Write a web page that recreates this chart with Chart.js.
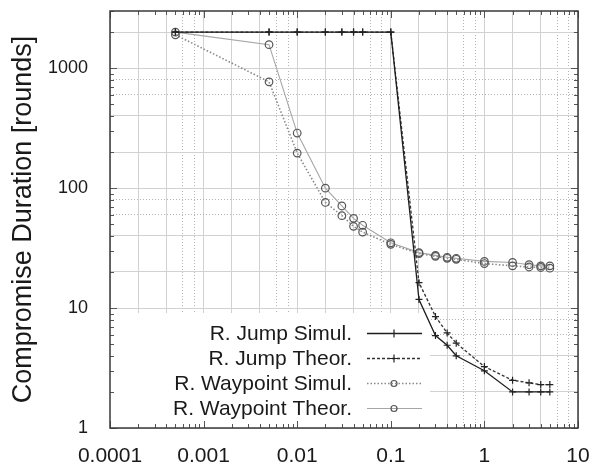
<!DOCTYPE html>
<html>
<head>
<meta charset="utf-8">
<script src="https://cdn.jsdelivr.net/npm/chart.js@4/dist/chart.umd.min.js"></script>
<style>
  html, body { margin: 0; padding: 0; background: #ffffff; }
  #wrap { width: 595px; height: 472px; position: relative; }
</style>
</head>
<body>
<div id="wrap"><canvas id="c" width="595" height="472"></canvas></div>
<script>
// ---- data ----
const xValues = [0.0005, 0.005, 0.01, 0.02, 0.03, 0.04, 0.05, 0.1, 0.2, 0.3, 0.4, 0.5, 1, 2, 3, 4, 5];
const jumpSimul     = [2000, 2000, 2000, 2000, 2000, 2000, 2000, 2000, 11.8, 5.9, 4.9, 4.0, 3.0, 2.0, 2.0, 2.0, 2.0];
const jumpTheor     = [2000, 2000, 2000, 2000, 2000, 2000, 2000, 2000, 16.3, 8.5, 6.2, 5.1, 3.25, 2.5, 2.38, 2.3, 2.3];
const waypointSimul = [1900, 770, 196, 76, 59, 48, 43, 34, 28.5, 27, 26, 25.5, 23.5, 22.5, 22, 21.8, 21.5];
const waypointTheor = [2000, 1573, 288, 100, 71, 56, 49, 35, 29, 27.5, 26.5, 26, 24.5, 24, 23, 22.5, 22.5];
const seriesLabels = ['R. Jump Simul.', 'R. Jump Theor.', 'R. Waypoint Simul.', 'R. Waypoint Theor.'];
const xTickValues = [0.0001, 0.001, 0.01, 0.1, 1, 10];
const xTickLabels = ['0.0001', '0.001', '0.01', '0.1', '1', '10'];
const yTickValues = [1, 10, 100, 1000];
const yTickLabels = ['1', '10', '100', '1000'];
const yTitle = 'Compromise Duration [rounds]';
const xMin = 0.0001, xMax = 10, yMin = 1, yMax = 3000;

// ---- helpers ----
function logSteps(minV, maxV) {
  const out = [];
  const e0 = Math.round(Math.log10(minV)), e1 = Math.ceil(Math.log10(maxV));
  for (let e = e0; e <= e1; e++) {
    for (let k = 1; k <= 9; k++) {
      const v = parseFloat((k * Math.pow(10, e)).toPrecision(6));
      if (v >= minV * 0.9999 && v <= maxV * 1.0001) out.push(v);
    }
  }
  return out;
}
function mantissa(v) {
  const e = Math.floor(Math.log10(v) + 1e-9);
  return Math.round(v / Math.pow(10, e));
}
function labelFor(vals, labels, v) {
  const i = vals.findIndex(t => Math.abs(t - v) / t < 1e-6);
  return i >= 0 ? labels[i] : '';
}
function gridColor(ctx) {
  if (!ctx.tick) return 'rgba(0,0,0,0)';
  const m = mantissa(ctx.tick.value);
  if (m === 1 || m === 2 || m === 4) return '#d2d2d2';
  if (m === 6 || m === 8) return '#b4b4b4';
  return 'rgba(0,0,0,0)';
}
function gridDash(ctx) {
  if (!ctx.tick) return [];
  const m = mantissa(ctx.tick.value);
  return (m === 6 || m === 8) ? [1, 2] : [];
}
function fixBox(s) {
  s.paddingTop = 0; s.paddingBottom = 0; s.paddingLeft = 0; s.paddingRight = 0;
}

const mainFontFamily = "'Liberation Sans', Arial, sans-serif";

const styles = [
  { borderColor: '#1e1e1e', borderWidth: 1.3, borderDash: [], pointStyle: 'cross', pointRadius: 3.5 },
  { borderColor: '#333333', borderWidth: 1.3, borderDash: [3, 2], pointStyle: 'cross', pointRadius: 3.5 },
  { borderColor: '#8a8a8a', borderWidth: 1.6, borderDash: [1.5, 2], pointStyle: 'circle', pointRadius: 3.8 },
  { borderColor: '#a6a6a6', borderWidth: 1.1, borderDash: [], pointStyle: 'circle', pointRadius: 3.8 }
];
const seriesData = [jumpSimul, jumpTheor, waypointSimul, waypointTheor];

const datasets = seriesData.map((arr, i) => ({
  label: seriesLabels[i],
  data: xValues.map((x, j) => ({ x: x, y: arr[j] })),
  borderColor: styles[i].borderColor,
  borderWidth: styles[i].borderWidth,
  borderDash: styles[i].borderDash,
  pointStyle: styles[i].pointStyle,
  pointRadius: styles[i].pointRadius,
  pointBorderColor: i < 2 ? '#222222' : '#555555',
  pointBorderWidth: 1.2,
  pointBackgroundColor: 'rgba(255,255,255,0)',
  fill: false,
  tension: 0
}));

const framePlugin = {
  id: 'frameAndKey',
  beforeDatasetsDraw(chart) {
    const ctx = chart.ctx, a = chart.chartArea;
    const xs = chart.scales.x, ys = chart.scales.y;
    ctx.save();
    // opaque key background
    ctx.fillStyle = '#ffffff';
    ctx.fillRect(a.left, 313, 430 - a.left, a.bottom - 313);
    // inward tick marks on all four borders
    ctx.strokeStyle = '#555555';
    ctx.lineWidth = 1;
    ctx.beginPath();
    logSteps(xMin, xMax).forEach(v => {
      const px = Math.round(xs.getPixelForValue(v)) + 0.5;
      const len = mantissa(v) === 1 ? 7 : 4;
      ctx.moveTo(px, a.bottom); ctx.lineTo(px, a.bottom - len);
      ctx.moveTo(px, a.top); ctx.lineTo(px, a.top + len);
    });
    logSteps(yMin, yMax).forEach(v => {
      const py = Math.round(ys.getPixelForValue(v)) + 0.5;
      const len = mantissa(v) === 1 ? 7 : 4;
      ctx.moveTo(a.left, py); ctx.lineTo(a.left + len, py);
      ctx.moveTo(a.right, py); ctx.lineTo(a.right - len, py);
    });
    ctx.stroke();
    // frame
    ctx.strokeStyle = '#3a3a3a';
    ctx.lineWidth = 1.5;
    ctx.strokeRect(a.left, a.top, a.right - a.left, a.bottom - a.top);
    ctx.restore();
  },
  afterDatasetsDraw(chart) {
    const ctx = chart.ctx;
    const rowY = [333, 358, 383, 408];
    const textRight = 352, lineL = 367, lineR = 422, markX = 394;
    ctx.save();
    ctx.font = '21px ' + mainFontFamily;
    ctx.fillStyle = '#1a1a1a';
    ctx.textAlign = 'right';
    ctx.textBaseline = 'middle';
    chart.data.datasets.forEach((ds, i) => {
      const y = rowY[i];
      ctx.fillText(ds.label, textRight, y + 1);
      ctx.save();
      ctx.strokeStyle = ds.borderColor;
      ctx.lineWidth = ds.borderWidth;
      ctx.setLineDash(ds.borderDash || []);
      ctx.beginPath();
      ctx.moveTo(lineL, y + 0.5); ctx.lineTo(lineR, y + 0.5);
      ctx.stroke();
      ctx.restore();
      ctx.save();
      ctx.strokeStyle = ds.pointBorderColor;
      ctx.fillStyle = ds.pointBackgroundColor;
      ctx.lineWidth = ds.pointBorderWidth;
      Chart.helpers.drawPoint(ctx, { pointStyle: ds.pointStyle, radius: ds.pointStyle === 'circle' ? 3 : 4, rotation: 0, borderWidth: ds.pointBorderWidth }, markX, y + 0.5);
      ctx.restore();
    });
    ctx.restore();
  }
};

new Chart(document.getElementById('c'), {
  type: 'line',
  data: { datasets: datasets },
  options: {
    responsive: false,
    animation: false,
    devicePixelRatio: 1,
    layout: { padding: { top: 11, right: 17, left: 0, bottom: 0 } },
    plugins: { legend: { display: false }, tooltip: { enabled: false } },
    scales: {
      x: {
        type: 'logarithmic',
        min: xMin, max: xMax,
        afterBuildTicks: (s) => { s.ticks = logSteps(xMin, xMax).map(v => ({ value: v })); },
        afterFit: (s) => { s.height = 44; fixBox(s); },
        ticks: {
          autoSkip: false, maxRotation: 0, minRotation: 0, padding: 16,
          color: '#1a1a1a',
          font: { family: mainFontFamily, size: 21 },
          callback: (v) => labelFor(xTickValues, xTickLabels, v)
        },
        grid: { drawTicks: false, color: gridColor, lineWidth: 1 },
        border: { display: false, dash: gridDash }
      },
      y: {
        type: 'logarithmic',
        min: yMin, max: yMax,
        afterBuildTicks: (s) => { s.ticks = logSteps(yMin, yMax).map(v => ({ value: v })); },
        afterFit: (s) => { s.width = 110; fixBox(s); },
        ticks: {
          autoSkip: false, padding: 22,
          color: '#1a1a1a',
          font: { family: mainFontFamily, size: 18 },
          callback: (v) => labelFor(yTickValues, yTickLabels, v)
        },
        grid: { drawTicks: false, color: gridColor, lineWidth: 1 },
        border: { display: false, dash: gridDash },
        title: {
          display: true, text: yTitle, color: '#1a1a1a',
          font: { family: mainFontFamily, size: 27 },
          padding: { top: 7, bottom: 0 }
        }
      }
    }
  },
  plugins: [framePlugin]
});
</script>
</body>
</html>
